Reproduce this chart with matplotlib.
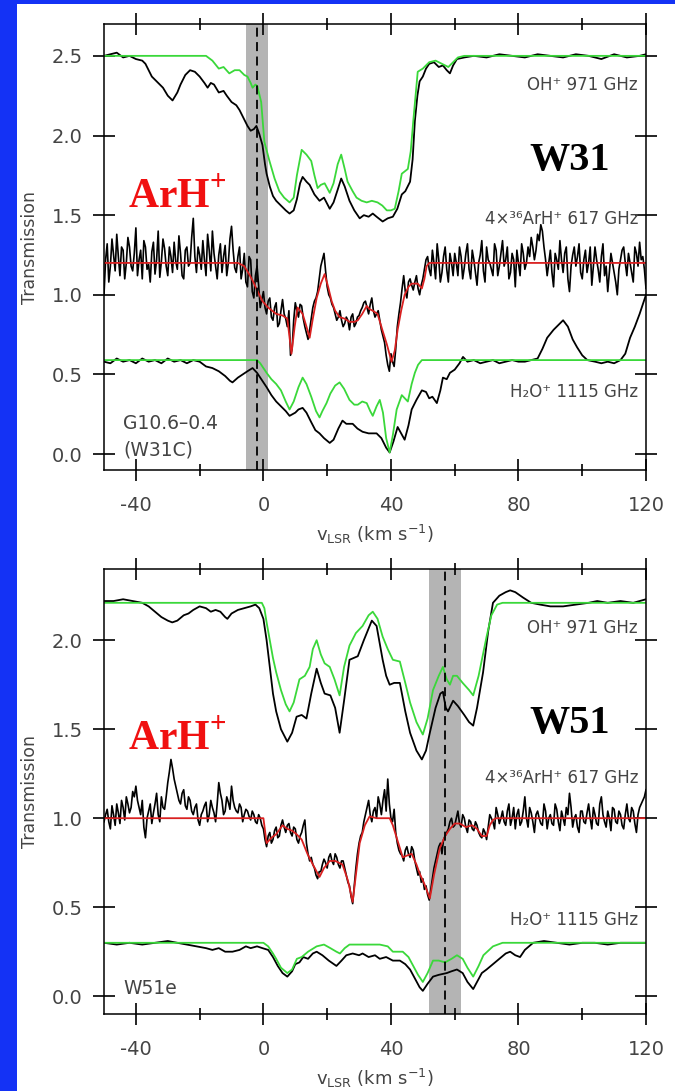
import numpy as np
import matplotlib
matplotlib.use("Agg")
from matplotlib import pyplot as plt
from matplotlib.ticker import MultipleLocator
from matplotlib.patches import Rectangle

plt.rcParams['axes.unicode_minus'] = False
plt.rcParams['mathtext.fontset'] = 'custom'
plt.rcParams['mathtext.rm'] = 'Liberation Serif:bold'
plt.rcParams['mathtext.sf'] = 'DejaVu Sans'

# velocity channels of the noisy ArH+ spectra (km/s): whole and half km/s
v_grid = np.arange(-50, 121)
v_half = np.arange(-49.5, 120)

# ---------------- W31 (G10.6-0.4) ----------------
w31_oh_obs_v = [-50, -48, -46, -44, -42, -40, -38, -37, -35, -33, -31.5, -30, -28.5, -27, -26, -24.5, -23,
                -21.5, -20, -18.5, -17.5, -16.5, -15.5, -14, -12.5, -11.5, -10, -8.5, -7.5, -6, -5, -4, -3,
                -2.2, -1.3, -0.3, 0.5, 1, 2, 3, 4, 5.5, 7, 8.2, 9.5, 10.5, 11.5, 12.3, 13.5, 14.5, 16, 17.6,
                19, 20.8, 22, 23.3, 24.4, 25.5, 27, 28.5, 30.2, 31.5, 33, 34.3, 35.5, 37.4, 39, 40.6, 42,
                43.4, 44.5, 46, 46.8, 47.5, 48.3, 49, 50, 51, 52, 53.5, 55, 56.3, 57.5, 58.5, 59.5, 60.7, 63,
                66, 70, 74, 78, 82, 86, 90, 94, 98, 102, 106, 110, 114, 118, 120]
w31_oh_obs = [2.50, 2.51, 2.52, 2.49, 2.50, 2.48, 2.47, 2.45, 2.37, 2.33, 2.30, 2.25, 2.22, 2.27, 2.32, 2.38, 2.41,
              2.40, 2.37, 2.33, 2.30, 2.33, 2.32, 2.27, 2.28, 2.25, 2.21, 2.19, 2.16, 2.10, 2.06, 2.03, 2.04,
              2.06, 2.01, 1.94, 1.82, 1.76, 1.68, 1.62, 1.59, 1.56, 1.53, 1.51, 1.53, 1.60, 1.70, 1.74, 1.71, 1.69,
              1.63, 1.59, 1.61, 1.54, 1.58, 1.66, 1.73, 1.68, 1.59, 1.53, 1.48, 1.50, 1.49, 1.51, 1.49, 1.46,
              1.48, 1.49, 1.54, 1.63, 1.65, 1.71, 1.85, 2.09, 2.25, 2.34, 2.37, 2.42, 2.45, 2.46, 2.43, 2.44,
              2.41, 2.39, 2.44, 2.48, 2.49, 2.50, 2.49, 2.51, 2.50, 2.49, 2.51, 2.50, 2.49, 2.51, 2.50, 2.48,
              2.51, 2.49, 2.50, 2.51]
w31_oh_mod_v = [-50, -18, -16, -14, -12.5, -10.7, -9, -7.5, -6, -5, -4, -3.4, -2.5, -1.9, -0.7, 0.3, 1.9, 3.5, 5,
                6.5, 8.2, 9.5, 10.5, 12, 13.5, 15, 16, 17, 18, 19.2, 20.8, 22, 23.3, 24.4, 25.5, 26.4, 28, 29.2,
                30.8, 32.4, 34, 35.8, 37.3, 38.7, 40, 41.2, 42.4, 43.4, 45.3, 46.2, 47, 48.4, 50, 52, 54, 56,
                58, 59.5, 61, 63, 120]
w31_oh_mod = [2.50, 2.50, 2.47, 2.42, 2.43, 2.39, 2.41, 2.41, 2.38, 2.37, 2.33, 2.30, 2.32, 2.31, 2.21, 1.96, 1.84,
              1.73, 1.65, 1.61, 1.58, 1.61, 1.75, 1.91, 1.88, 1.84, 1.75, 1.67, 1.69, 1.70, 1.64, 1.70, 1.82, 1.88,
              1.79, 1.71, 1.65, 1.61, 1.59, 1.58, 1.59, 1.58, 1.56, 1.53, 1.53, 1.54, 1.65, 1.76, 1.79, 1.90, 2.09,
              2.40, 2.42, 2.46, 2.47, 2.45, 2.43, 2.46, 2.49, 2.50, 2.50]

w31_arh_obs = [1.00, 1.32, 1.18, 1.25, 1.38, 1.12, 1.28, 1.20, 1.30, 1.15,
               1.42, 1.22, 1.10, 1.30, 1.19, 1.27, 1.13, 1.40, 1.21, 1.29,
               1.12, 1.24, 1.33, 1.16, 1.26, 1.10, 1.30, 1.20, 1.48, 1.14,
               1.25, 1.34, 1.12, 1.28, 1.40, 1.18, 1.25, 1.14, 1.31, 1.20,
               1.43, 1.17, 1.24, 1.10, 1.26, 1.05, 1.22, 0.98, 1.18, 0.92,
               1.02, 0.88, 0.98, 0.84, 0.95, 0.82, 0.97, 0.85, 0.90, 0.66,
               0.95, 0.86, 0.93, 0.80, 0.72, 0.85, 0.96, 1.02, 1.18, 1.26,
               1.05, 0.98, 0.92, 0.84, 0.90, 0.80, 0.86, 0.78, 0.88, 0.82,
               0.87, 0.92, 0.96, 0.88, 0.98, 0.86, 0.90, 0.78, 0.70, 0.56,
               0.63, 0.55, 0.80, 0.95, 1.12, 0.98, 1.10, 1.03, 1.12, 1.00,
               1.10, 1.22, 1.16, 1.28, 1.10, 1.22, 1.14, 1.30, 1.08, 1.20,
               1.26, 1.12, 1.24, 1.17, 1.32, 1.10, 1.22, 1.06, 1.25, 1.15,
               1.30, 1.20, 1.12, 1.28, 1.18, 1.34, 1.22, 1.10, 1.26, 1.05,
               1.20, 1.32, 1.16, 1.30, 1.36, 1.22, 1.38, 1.44, 1.30, 1.12,
               1.28, 1.05, 1.22, 1.34, 1.14, 1.30, 1.02, 1.25, 1.18, 1.32,
               1.10, 1.28, 1.20, 1.06, 1.30, 1.16, 1.24, 1.12, 1.02, 1.26,
               1.14, 1.00, 1.22, 1.30, 1.12, 1.20, 1.08, 1.26, 1.33, 1.24,
               1.04]
w31_arh_obs_half = [1.22, 1.08, 1.35, 1.15, 1.24, 1.30, 1.10, 1.36, 1.18, 1.26,
                    1.12, 1.28, 1.34, 1.16, 1.08, 1.33, 1.22, 1.11, 1.35, 1.18,
                    1.30, 1.14, 1.21, 1.37, 1.12, 1.28, 1.18, 1.36, 1.24, 1.30,
                    1.16, 1.22, 1.38, 1.15, 1.26, 1.10, 1.32, 1.24, 1.12, 1.35,
                    1.28, 1.14, 1.30, 1.16, 1.08, 1.24, 1.02, 1.12, 1.06, 0.97,
                    0.92, 0.96, 0.86, 0.92, 0.80, 0.90, 0.88, 0.80, 0.62, 0.84,
                    0.90, 0.94, 0.85, 0.76, 0.78, 0.92, 0.98, 1.10, 1.22, 1.15,
                    1.00, 0.94, 0.88, 0.86, 0.84, 0.82, 0.84, 0.86, 0.80, 0.86,
                    0.90, 0.95, 0.92, 0.94, 0.90, 0.88, 0.84, 0.74, 0.62, 0.52,
                    0.58, 0.66, 0.88, 1.04, 1.02, 1.08, 1.06, 1.08, 1.04, 1.06,
                    1.16, 1.24, 1.12, 1.20, 1.32, 1.08, 1.24, 1.16, 1.26, 1.12,
                    1.20, 1.30, 1.10, 1.26, 1.16, 1.28, 1.14, 1.20, 1.34, 1.08,
                    1.22, 1.16, 1.32, 1.12, 1.26, 1.18, 1.30, 1.14, 1.22, 1.28,
                    1.12, 1.26, 1.20, 1.24, 1.30, 1.28, 1.34, 1.40, 1.22, 1.20,
                    1.14, 1.26, 1.16, 1.22, 1.26, 1.10, 1.18, 1.30, 1.24, 1.14,
                    1.22, 1.14, 1.30, 1.18, 1.22, 1.08, 1.32, 1.18, 1.14, 1.20,
                    1.08, 1.16, 1.28, 1.20, 1.26, 1.14, 1.30, 1.18, 1.22, 1.16]
w31_arh_mod_v = [-50, -8, -6, -4.5, -3.4, -2, -0.3, 1.5, 4, 6, 7.5, 8.8, 9.8, 10.7, 12.3, 13.5, 14.5, 15.5, 16.7,
                 18, 19.2, 20.3, 21.4, 22.5, 23.9, 25.5, 27, 28.5, 29.6, 31, 32.4, 33.3, 34.3, 35.8, 37.3, 38.7,
                 40.2, 41.2, 42.1, 43.2, 44.3, 45.5, 46.5, 48.4, 49.7, 50.5, 51.2, 52, 120]
w31_arh_mod = [1.20, 1.20, 1.18, 1.13, 1.09, 1.03, 0.96, 0.92, 0.88, 0.87, 0.85, 0.63, 0.80, 0.92, 0.88, 0.80, 0.73,
               0.85, 0.98, 1.07, 1.13, 1.05, 0.96, 0.90, 0.86, 0.85, 0.83, 0.83, 0.84, 0.88, 0.93, 0.91, 0.90, 0.88,
               0.78, 0.69, 0.58, 0.65, 0.78, 0.90, 1.00, 1.05, 1.07, 1.07, 1.04, 1.10, 1.18, 1.20, 1.20]

w31_h2o_obs_v = [-50, -48, -46, -44, -42, -40, -38, -36, -34, -32, -30, -28, -26, -24, -22, -20, -18, -16, -14,
                 -12, -10.5, -9.7, -8, -6.5, -5, -3.4, -2, -1, 0, 1, 2.5, 4, 5.5, 7, 8.2, 10, 11, 12.3, 13.5, 15,
                 16.3, 17.6, 19, 20.8, 22, 23.5, 24.8, 26, 28, 29.5, 31.1, 33, 35.5, 37, 38.5, 39.6, 40.8, 42.1,
                 43.2, 44.3, 45.5, 46.5, 48, 49.7, 51, 52, 53, 54.4, 55.5, 56.3, 57.5, 58.5, 60, 61.5, 62.6, 64,
                 66, 68, 70, 72, 74, 76, 78, 80, 82, 84, 86, 87.5, 89, 91, 93, 94, 95.5, 97, 98.4, 100, 101.6,
                 104, 106, 108, 110, 112, 113.5, 115, 116.5, 118, 119, 120]
w31_h2o_obs = [0.58, 0.57, 0.60, 0.58, 0.59, 0.57, 0.60, 0.58, 0.59, 0.57, 0.60, 0.58, 0.59, 0.57, 0.59, 0.58, 0.55,
               0.54, 0.52, 0.49, 0.46, 0.45, 0.48, 0.50, 0.52, 0.54, 0.51, 0.48, 0.45, 0.42, 0.37, 0.33, 0.30, 0.27,
               0.24, 0.26, 0.28, 0.29, 0.26, 0.20, 0.15, 0.13, 0.10, 0.07, 0.09, 0.16, 0.21, 0.19, 0.19, 0.16, 0.14,
               0.13, 0.13, 0.10, 0.04, 0.01, 0.08, 0.17, 0.13, 0.09, 0.18, 0.28, 0.34, 0.40, 0.39, 0.35, 0.36, 0.32,
               0.40, 0.48, 0.47, 0.51, 0.53, 0.57, 0.61, 0.58, 0.59, 0.57, 0.58, 0.59, 0.57, 0.58, 0.59, 0.58, 0.58,
               0.59, 0.60, 0.66, 0.73, 0.78, 0.82, 0.84, 0.80, 0.72, 0.67, 0.62, 0.59, 0.58, 0.57, 0.58, 0.57, 0.59,
               0.63, 0.73, 0.80, 0.88, 0.94, 1.00]
w31_h2o_mod_v = [-50, -2, -1, 0, 1, 2.5, 4, 5.5, 7, 8.2, 9.5, 11, 12.3, 13.5, 15, 16.5, 17.6, 18.5, 19.8, 21, 22.5,
                 23.9, 25.3, 27, 28.5, 29.6, 31, 32.4, 33.5, 34.3, 35.5, 36.5, 37.5, 38.5, 39.6, 40.6, 41.8, 43.4,
                 45.3, 46.5, 47.5, 48.5, 49.7, 120]
w31_h2o_mod = [0.59, 0.59, 0.57, 0.54, 0.51, 0.47, 0.44, 0.40, 0.33, 0.28, 0.33, 0.42, 0.48, 0.44, 0.36, 0.27, 0.23,
               0.27, 0.32, 0.38, 0.43, 0.45, 0.41, 0.34, 0.31, 0.31, 0.33, 0.32, 0.27, 0.24, 0.30, 0.34, 0.26, 0.10,
               0.01, 0.12, 0.28, 0.37, 0.33, 0.44, 0.51, 0.56, 0.59, 0.59]

# ---------------- W51e ----------------
w51_oh_obs_v = [-50, -47, -44, -41, -38, -36, -34, -32, -30, -28.6, -27, -25, -23.5, -22, -20, -18, -16.5, -15,
                -13.5, -12, -11.3, -10, -8, -6, -4, -2.5, -1.3, 0, 1, 2, 3, 4, 5.5, 7.5, 9, 10.4, 12, 13.5, 15,
                16.7, 18, 19.2, 21, 22.5, 23.9, 25.3, 27, 29.6, 31.5, 34, 35.5, 37.4, 38.5, 39.6, 41, 42.8, 44.5,
                46, 48, 49.7, 51, 52.2, 54, 55.5, 56.3, 57.2, 57.9, 59.5, 61, 63, 64.5, 65.8, 67, 68.9, 70.5, 72,
                74, 76, 77.4, 79, 81.4, 84, 86.8, 90, 94, 98, 102, 104.7, 108, 112, 116, 120]
w51_oh_obs = [2.22, 2.22, 2.23, 2.22, 2.21, 2.19, 2.16, 2.13, 2.11, 2.10, 2.11, 2.14, 2.15, 2.17, 2.19, 2.18, 2.16,
              2.17, 2.16, 2.13, 2.12, 2.15, 2.17, 2.18, 2.19, 2.20, 2.18, 2.12, 2.00, 1.85, 1.70, 1.60, 1.50, 1.43,
              1.48, 1.57, 1.58, 1.56, 1.70, 1.84, 1.76, 1.70, 1.69, 1.62, 1.48, 1.66, 1.89, 1.91, 2.00, 2.11, 2.08,
              1.89, 1.80, 1.75, 1.76, 1.76, 1.60, 1.48, 1.38, 1.33, 1.38, 1.48, 1.62, 1.70, 1.71, 1.62, 1.60, 1.66,
              1.63, 1.58, 1.54, 1.52, 1.62, 1.82, 2.05, 2.21, 2.25, 2.27, 2.28, 2.27, 2.24, 2.21, 2.20, 2.19, 2.19,
              2.20, 2.21, 2.22, 2.21, 2.22, 2.21, 2.23]
w51_oh_mod_v = [-50, -0.5, 0.3, 1, 2, 3, 4, 5.5, 7, 8.2, 9.5, 11.3, 13, 14.5, 15.5, 16.7, 18, 19.2, 20.8, 22.3,
                23.9, 25.3, 27, 29, 31.1, 33, 34.3, 35.8, 37.4, 39, 40.6, 42.8, 44.5, 46, 48, 50, 51.5, 53.2, 55,
                56.3, 57.5, 58.5, 59.5, 60.7, 62.5, 64.5, 65.8, 67.5, 70, 71.5, 73.3, 75, 120]
w51_oh_mod = [2.21, 2.21, 2.18, 2.10, 2.00, 1.90, 1.82, 1.72, 1.64, 1.60, 1.65, 1.78, 1.80, 1.85, 1.95, 2.00, 1.92,
              1.87, 1.85, 1.78, 1.69, 1.85, 1.97, 2.04, 2.08, 2.14, 2.16, 2.12, 2.02, 1.95, 1.89, 1.88, 1.76, 1.65,
              1.54, 1.47, 1.56, 1.72, 1.80, 1.85, 1.78, 1.75, 1.80, 1.80, 1.76, 1.72, 1.69, 1.80, 2.02, 2.14, 2.20,
              2.21, 2.21]

w51_arh_obs = [0.98, 1.05, 0.94, 1.02, 1.08, 0.97, 1.06, 1.12, 1.03, 1.15,
               1.18, 1.06, 1.10, 0.89, 1.04, 0.97, 1.08, 1.02, 1.12, 1.05,
               1.20, 1.33, 1.22, 1.14, 1.08, 1.16, 1.05, 1.10, 1.02, 1.08,
               0.96, 1.04, 1.09, 1.02, 1.06, 0.98, 1.20, 1.10, 1.04, 1.09,
               1.18, 1.06, 1.03, 1.06, 1.02, 1.04, 0.99, 1.02, 0.97, 1.00,
               0.94, 0.84, 0.92, 0.88, 0.95, 0.90, 0.99, 0.92, 0.97, 0.90,
               0.94, 0.86, 0.92, 0.99, 0.80, 0.78, 0.72, 0.66, 0.70, 0.77,
               0.72, 0.80, 0.74, 0.78, 0.72, 0.76, 0.68, 0.62, 0.52, 0.72,
               0.86, 0.92, 1.02, 1.10, 0.98, 1.06, 1.12, 1.02, 1.16, 1.22,
               1.00, 1.05, 0.86, 0.80, 0.76, 0.84, 0.78, 0.82, 0.72, 0.70,
               0.66, 0.62, 0.54, 0.66, 0.76, 0.84, 0.80, 0.90, 0.94, 1.00,
               0.96, 1.04, 0.95, 1.00, 0.92, 0.98, 0.93, 0.96, 0.90, 0.94,
               0.88, 1.02, 0.98, 1.06, 0.97, 1.04, 0.96, 1.08, 1.00, 0.94,
               1.05, 0.98, 1.12, 0.95, 1.03, 0.92, 1.04, 0.97, 1.08, 0.94,
               1.02, 0.96, 1.05, 0.93, 1.00, 1.06, 1.14, 0.95, 1.02, 0.92,
               1.04, 0.97, 1.08, 0.94, 1.02, 0.96, 1.12, 0.98, 1.04, 0.93,
               1.05, 0.97, 1.02, 0.94, 1.08, 0.98, 1.04, 0.92, 1.06, 1.10,
               1.16]
w51_arh_obs_half = [1.02, 0.98, 1.07, 0.96, 1.03, 1.10, 0.99, 1.08, 1.06, 1.12,
                    1.10, 1.02, 0.95, 1.00, 1.08, 1.03, 1.14, 0.98, 1.06, 1.12,
                    1.26, 1.28, 1.18, 1.10, 1.14, 1.07, 1.12, 1.04, 1.06, 0.99,
                    1.02, 1.07, 0.98, 1.10, 1.03, 1.08, 1.14, 1.02, 1.12, 1.05,
                    1.10, 1.04, 1.08, 0.98, 1.05, 1.01, 1.04, 0.98, 1.02, 0.96,
                    0.88, 0.90, 0.86, 0.93, 0.89, 0.96, 0.95, 0.96, 0.92, 0.95,
                    0.88, 0.90, 0.96, 0.86, 0.76, 0.74, 0.68, 0.70, 0.74, 0.75,
                    0.78, 0.76, 0.80, 0.74, 0.76, 0.72, 0.64, 0.56, 0.62, 0.80,
                    0.90, 0.98, 1.06, 1.02, 1.04, 1.00, 1.08, 1.10, 1.04, 1.08,
                    0.98, 0.92, 0.82, 0.79, 0.82, 0.80, 0.84, 0.76, 0.68, 0.64,
                    0.60, 0.57, 0.60, 0.72, 0.80, 0.86, 0.88, 0.92, 0.98, 0.95,
                    1.00, 0.97, 1.02, 0.95, 0.99, 0.94, 0.98, 0.92, 0.89, 0.92,
                    0.95, 1.00, 0.94, 1.02, 1.00, 0.98, 1.04, 0.96, 1.06, 1.02,
                    0.96, 1.04, 1.00, 1.06, 0.98, 1.02, 1.00, 0.96, 1.04, 1.00,
                    0.97, 1.08, 0.98, 1.04, 0.96, 1.02, 1.06, 1.00, 0.95, 1.04,
                    0.98, 1.03, 1.00, 1.06, 0.97, 1.08, 1.02, 0.95, 1.00, 1.06,
                    0.98, 1.04, 0.96, 1.02, 1.00, 1.06, 0.97, 1.02, 1.08, 1.12]
w51_arh_mod_v = [-50, 0, 0.5, 1, 2.5, 4, 6, 7.5, 9, 10.4, 12, 13.8, 15.5, 17.6, 19, 20.8, 22.5, 24.8, 26.5, 28,
                 29, 30.2, 31.8, 33.3, 35.5, 39.6, 40.6, 41.8, 43.7, 45, 46.5, 48, 49, 50.5, 52.2, 53.5, 55.3, 57,
                 58.5, 60, 61.6, 63.5, 65.5, 67, 68.5, 70, 71, 72, 73, 120]
w51_arh_mod = [1.00, 1.00, 0.93, 0.86, 0.89, 0.91, 0.96, 0.94, 0.93, 0.91, 0.88, 0.80, 0.74, 0.67, 0.72, 0.76, 0.76,
               0.74, 0.65, 0.53, 0.68, 0.86, 0.96, 1.01, 1.00, 1.00, 0.96, 0.89, 0.78, 0.79, 0.80, 0.74, 0.69, 0.63,
               0.55, 0.68, 0.83, 0.90, 0.94, 0.97, 0.97, 0.95, 0.96, 0.94, 0.90, 0.90, 0.96, 0.99, 1.00, 1.00]

w51_h2o_obs_v = [-50, -46, -42, -38, -34, -30, -27, -24, -21, -18, -16, -14, -12, -9.7, -7.5, -5.5, -4, -2, -0.3,
                 1.5, 3, 4.5, 6, 7.5, 9, 10, 11.3, 12.5, 14, 15.5, 16.7, 18.5, 20.5, 22.9, 24.5, 26, 28, 30, 31.1,
                 33, 35, 36.5, 38.5, 40.6, 42.8, 44.5, 46, 47.5, 49, 50, 51.5, 53.2, 55, 57.5, 59, 60.7, 62.5, 64,
                 65.8, 67, 68.5, 70, 72, 74, 76, 77.4, 79, 80.5, 82, 84.6, 88, 92, 96, 100, 104, 108, 112, 116, 120]
w51_h2o_obs = [0.30, 0.29, 0.30, 0.29, 0.30, 0.31, 0.30, 0.29, 0.28, 0.27, 0.26, 0.27, 0.25, 0.25, 0.26, 0.28, 0.27,
               0.28, 0.27, 0.26, 0.22, 0.17, 0.13, 0.11, 0.14, 0.18, 0.19, 0.22, 0.21, 0.24, 0.25, 0.23, 0.20, 0.17,
               0.20, 0.23, 0.24, 0.23, 0.24, 0.22, 0.23, 0.21, 0.22, 0.20, 0.20, 0.18, 0.15, 0.10, 0.05, 0.03, 0.07,
               0.11, 0.12, 0.13, 0.14, 0.15, 0.13, 0.08, 0.04, 0.08, 0.13, 0.15, 0.18, 0.21, 0.24, 0.25, 0.23, 0.22,
               0.26, 0.30, 0.31, 0.30, 0.29, 0.30, 0.30, 0.29, 0.30, 0.30, 0.30]
w51_h2o_mod_v = [-50, 0, 1.5, 3, 4, 5.5, 7.5, 9, 10.5, 12, 14, 16.7, 19, 21, 22.9, 24, 25.5, 27, 30, 33, 36.5, 39,
                 40.6, 42, 43.7, 45.5, 47, 48.5, 50, 51.5, 53.2, 55, 57, 59, 60.7, 62.5, 64, 65.8, 67.5, 69, 72, 75,
                 120]
w51_h2o_mod = [0.30, 0.30, 0.28, 0.24, 0.21, 0.16, 0.13, 0.15, 0.21, 0.22, 0.25, 0.28, 0.29, 0.27, 0.25, 0.24, 0.27,
               0.29, 0.29, 0.29, 0.29, 0.28, 0.25, 0.25, 0.25, 0.22, 0.17, 0.12, 0.08, 0.13, 0.20, 0.20, 0.19, 0.21,
               0.23, 0.21, 0.16, 0.11, 0.17, 0.23, 0.28, 0.30, 0.30]

GREEN = '#3ad83a'
RED = '#d92020'
GREY_TXT = '#444444'


def merge_channels(whole, half):
    v = np.concatenate([v_grid, v_half])
    t = np.concatenate([whole, half])
    order = np.argsort(v)
    return v[order], t[order]


def panel(ax, oh, arh, h2o, ylim, band, vline, src, src_xy, label_y, big, big_xy, arh_xy):
    ax.axvspan(band[0], band[1], color='#b4b4b4', lw=0, zorder=0.5)
    ax.axvline(vline, color='k', lw=1.3, ls=(0, (5, 3)), zorder=4)

    v_arh, t_arh = merge_channels(arh[0], arh[1])
    ax.plot(oh[0], oh[1], color='k', lw=1.3)
    ax.plot(oh[2], oh[3], color=GREEN, lw=1.3)
    ax.plot(v_arh, t_arh, color='k', lw=1.2)
    ax.plot(arh[2], arh[3], color=RED, lw=1.3)
    ax.plot(h2o[0], h2o[1], color='k', lw=1.3)
    ax.plot(h2o[2], h2o[3], color=GREEN, lw=1.3)

    ax.set_xlim(-50, 120)
    ax.set_ylim(*ylim)
    ax.xaxis.set_major_locator(MultipleLocator(40))
    ax.xaxis.set_minor_locator(MultipleLocator(20))
    ax.yaxis.set_major_locator(MultipleLocator(0.5))
    ax.tick_params(axis='both', which='major', direction='inout', length=16.5, width=1.2,
                   bottom=True, top=True, left=True, right=True, labelsize=14, labelcolor=GREY_TXT)
    ax.tick_params(axis='x', which='minor', direction='inout', length=8.5, width=1.2,
                   bottom=True, top=True)
    ax.tick_params(axis='x', which='major', pad=10.5)
    ax.tick_params(axis='y', which='major', pad=7)
    for s in ax.spines.values():
        s.set_linewidth(1.1)

    ax.set_ylabel('Transmission', fontsize=12.5, color=GREY_TXT)
    ax.yaxis.set_label_coords(-0.12, 0.5)
    ax.set_xlabel(r'v$_{\mathsf{LSR}}$ (km s$^{\mathsf{-1}}$)', fontsize=13, color=GREY_TXT)
    ax.xaxis.set_label_coords(0.5, -0.118)

    names = ['OH\u207a 971 GHz', '4\u00d7\u00b3\u2076ArH\u207a 617 GHz', 'H\u2082O\u207a 1115 GHz']
    for name, y in zip(names, label_y):
        ax.text(117.5, y, name, ha='right', va='center', fontsize=12, color=GREY_TXT)
    for txt, (x, y) in zip(src, src_xy):
        ax.text(x, y, txt, ha='left', va='center', fontsize=13.5, color=GREY_TXT)

    ax.text(big_xy[0], big_xy[1], big, ha='center', va='center', fontsize=29,
            family='Liberation Serif', weight='bold', color='k')
    ax.text(arh_xy[0], arh_xy[1], 'ArH$^{+}$', ha='left', va='center', fontsize=30,
            family='Liberation Serif', weight='bold', color='#f01010')


fig = plt.figure(figsize=(6.75, 10.91), dpi=100)
fig.patch.set_facecolor('#1432f5')
fig.patches.append(Rectangle((17 / 675, 0), 1, 1087 / 1091, transform=fig.transFigure,
                             facecolor='white', edgecolor='none', zorder=-10))

ax1 = fig.add_axes([104 / 675, 1 - 470 / 1091, 542 / 675, 446 / 1091])
ax2 = fig.add_axes([104 / 675, 1 - 1014 / 1091, 542 / 675, 445 / 1091])

panel(ax1,
      (w31_oh_obs_v, w31_oh_obs, w31_oh_mod_v, w31_oh_mod),
      (w31_arh_obs, w31_arh_obs_half, w31_arh_mod_v, w31_arh_mod),
      (w31_h2o_obs_v, w31_h2o_obs, w31_h2o_mod_v, w31_h2o_mod),
      (-0.1, 2.7), (-5.5, 1.5), -2,
      ['G10.6\u20130.4', '(W31C)'], [(-44, 0.19), (-44, 0.025)],
      [2.32, 1.475, 0.39], 'W31', (96, 1.84), (-42.5, 1.61))

panel(ax2,
      (w51_oh_obs_v, w51_oh_obs, w51_oh_mod_v, w51_oh_mod),
      (w51_arh_obs, w51_arh_obs_half, w51_arh_mod_v, w51_arh_mod),
      (w51_h2o_obs_v, w51_h2o_obs, w51_h2o_mod_v, w51_h2o_mod),
      (-0.1, 2.4), (52, 62), 57,
      ['W51e'], [(-44, 0.045)],
      [2.07, 1.225, 0.43], 'W51', (96, 1.53), (-42.5, 1.44))

fig.savefig('out.png', dpi=100, facecolor=fig.get_facecolor())
